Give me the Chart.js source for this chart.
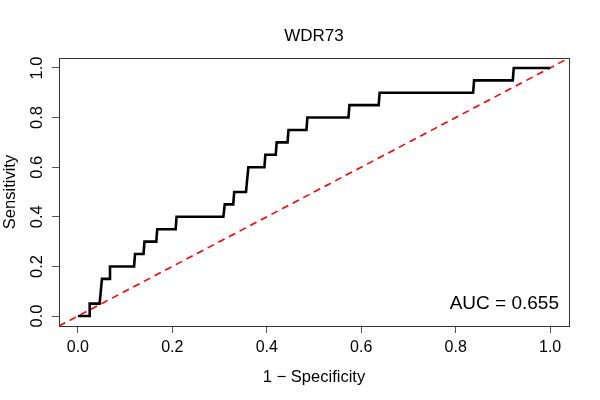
<!DOCTYPE html>
<html>
<head>
<meta charset="utf-8">
<script src="https://cdn.jsdelivr.net/npm/chart.js@4"></script>
<style>
  html, body { margin: 0; padding: 0; background: #fff; }
  #wrap { width: 600px; height: 400px; }
</style>
</head>
<body>
<div id="wrap"><canvas id="lienzo"></canvas></div>
<script>
// Curva ROC (1 - especificidad, sensibilidad)
const fpr = [0, 0.025, 0.025, 0.046, 0.051, 0.068, 0.068, 0.119, 0.121, 0.139, 0.141,
  0.166, 0.168, 0.207, 0.209, 0.308, 0.311, 0.329, 0.331, 0.356, 0.361, 0.395, 0.397,
  0.419, 0.421, 0.444, 0.446, 0.484, 0.486, 0.573, 0.575, 0.637, 0.639, 0.837, 0.839,
  0.921, 0.923, 1.0];
const tpr = [0, 0, 0.05, 0.05, 0.15, 0.15, 0.2, 0.2, 0.25, 0.25, 0.3, 0.3, 0.35, 0.35,
  0.4, 0.4, 0.45, 0.45, 0.5, 0.5, 0.6, 0.6, 0.65, 0.65, 0.7, 0.7, 0.75, 0.75, 0.8, 0.8,
  0.85, 0.85, 0.9, 0.9, 0.95, 0.95, 1.0, 1.0];

// Diagonal de referencia (abline 0,1) y ticks
const diagX = [-0.04, 1.04];
const diagY = [-0.04, 1.04];
const tickVals = [0, 0.2, 0.4, 0.6, 0.8, 1.0];
const tickLabels = ['0.0', '0.2', '0.4', '0.6', '0.8', '1.0'];

const titulo = 'WDR73';
const xTitulo = '1 \u2212 Specificity';
const yTitulo = 'Sensitivity';
const aucTexto = 'AUC = 0.655';

const FUENTE = '"Liberation Sans", Arial, sans-serif';

function setTicks(scale) {
  scale.ticks = tickVals.map(v => ({ value: v }));
}

// Plugin para dibujar caja, textos y etiquetas del eje y giradas
const rPlot = {
  id: 'rPlot',
  afterDraw(chart) {
    const c = chart.ctx;
    const a = chart.chartArea;
    const ys = chart.scales.y;
    c.save();
    c.strokeStyle = '#333';
    c.lineWidth = 1;
    c.strokeRect(a.left + 0.5, a.top + 0.5, a.right - a.left, a.bottom - a.top);

    c.fillStyle = '#000';
    c.textAlign = 'center';
    c.textBaseline = 'middle';
    c.font = '17px ' + FUENTE;
    c.fillText(titulo, (a.left + a.right) / 2, 36);

    c.font = '16.5px ' + FUENTE;
    c.fillText(xTitulo, (a.left + a.right) / 2, 377);

    c.save();
    c.translate(10, (a.top + a.bottom) / 2);
    c.rotate(-Math.PI / 2);
    c.fillText(yTitulo, 0, 0);
    c.restore();

    tickVals.forEach((v, i) => {
      c.save();
      c.translate(37, ys.getPixelForValue(v));
      c.rotate(-Math.PI / 2);
      c.fillText(tickLabels[i], 0, 0);
      c.restore();
    });

    c.font = '19px ' + FUENTE;
    c.textAlign = 'right';
    c.fillText(aucTexto, 559, 304);
    c.restore();
  }
};

const ctx = document.getElementById('lienzo').getContext('2d');
const myChart = new Chart(ctx, {
  type: 'scatter',
  data: {
    datasets: [
      {
        data: fpr.map((x, i) => ({ x: x, y: tpr[i] })),
        showLine: true,
        borderColor: '#000',
        borderWidth: 2.6,
        pointRadius: 0,
        tension: 0,
        borderJoinStyle: 'miter'
      },
      {
        data: diagX.map((x, i) => ({ x: x, y: diagY[i] })),
        showLine: true,
        borderColor: '#ff0000',
        borderWidth: 1.6,
        borderDash: [7, 5],
        pointRadius: 0
      }
    ]
  },
  plugins: [rPlot],
  options: {
    responsive: true,
    maintainAspectRatio: false,
    animation: false,
    layout: { padding: { left: 0, right: 31, top: 58, bottom: 0 } },
    plugins: {
      legend: { display: false },
      tooltip: { enabled: false },
      title: { display: false }
    },
    scales: {
      x: {
        type: 'linear',
        min: -0.04,
        max: 1.04,
        afterBuildTicks: setTicks,
        afterFit: s => { s.height = 74; },
        border: { display: false },
        grid: { drawOnChartArea: false, drawTicks: true, tickLength: 7, color: '#555' },
        ticks: {
          color: '#000',
          padding: 5,
          maxRotation: 0,
          font: { family: FUENTE, size: 16 },
          callback: v => tickLabels[tickVals.indexOf(v)]
        }
      },
      y: {
        type: 'linear',
        min: -0.04,
        max: 1.04,
        afterBuildTicks: setTicks,
        afterFit: s => { s.width = 59; },
        border: { display: false },
        grid: { drawOnChartArea: false, drawTicks: true, tickLength: 7, color: '#555' },
        ticks: { display: false }
      }
    }
  }
});
</script>
</body>
</html>
